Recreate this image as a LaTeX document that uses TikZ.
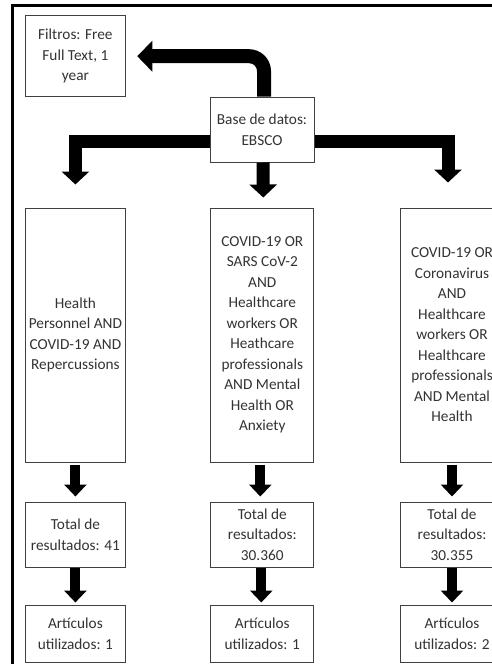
\documentclass[tikz,border=0pt]{standalone}
\usepackage{fontspec}
\setmainfont{Carlito}
\usetikzlibrary{arrows.meta}
\tikzset{
  box/.style={draw=black!75, line width=1pt, fill=white, text=black!80, align=center,
    inner sep=0pt, font=\fontsize{15.3}{20.5}\selectfont},
  bigarrow/.style={line width=13pt, -{Triangle[width=27pt 0, length=13pt 0]}},
  toparrow/.style={line width=14pt, rounded corners=15pt, -{Triangle[width=30pt 0, length=15pt 0]}},
  smallarrow/.style={line width=10pt, -{Triangle[width=22pt 0, length=12pt 0]}},
  frame/.style={line width=2.5pt, draw=black}
}
\begin{document}
\begin{tikzpicture}[x=1pt, y=-1pt]
\useasboundingbox (0,0) rectangle (492,664);
\clip (0,0) rectangle (492,664);
\draw[frame] (12.5,5.3) rectangle (600,700);
% nodes
\node[box, minimum width=100.7pt, minimum height=81pt] (filt) at (75.4,56.2) {Filtros: Free\\Full Text, 1\\year};
\node[box, minimum width=104pt, minimum height=65pt] (base) at (262,129.5) {Base de datos:\\EBSCO};
\node[box, minimum width=100.7pt, minimum height=254pt] (colL) at (75.4,335) {Health\\Personnel AND\\COVID-19 AND\\Repercussions};
\node[box, minimum width=103.3pt, minimum height=254pt] (colM) at (262.3,335) {COVID-19 OR\\SARS CoV-2\\AND\\Healthcare\\workers OR\\Heathcare\\professionals\\AND Mental\\Health OR\\Anxiety};
\node[box, minimum width=104pt, minimum height=254pt] (colR) at (452,335) {COVID-19 OR\\Coronavirus\\AND\\Healthcare\\workers OR\\Healthcare\\professionals\\AND Mental\\Health};
\node[box, minimum width=100.7pt, minimum height=65pt] (totL) at (75.4,534.5) {Total de\\resultados: 41};
\node[box, minimum width=103.3pt, minimum height=65pt] (totM) at (262.3,534.5) {Total de\\resultados:\\30.360};
\node[box, minimum width=104pt, minimum height=65pt] (totR) at (452,534.5) {Total de\\resultados:\\30.355};
\node[box, minimum width=100.7pt, minimum height=57pt] (artL) at (75.4,633.5) {Artículos\\utilizados: 1};
\node[box, minimum width=103.3pt, minimum height=57pt] (artM) at (262.3,633.5) {Artículos\\utilizados: 1};
\node[box, minimum width=104pt, minimum height=57pt] (artR) at (452,633.5) {Artículos\\utilizados: 2};
% connectors
\draw[toparrow] ([xshift=2pt]base.north) |- ([xshift=11pt]filt.east);
\draw[bigarrow] ([yshift=-12pt]base.west) -| ([yshift=23pt]colL.north);
\draw[bigarrow] ([yshift=-12pt]base.east) -| ([xshift=-4pt,yshift=25pt]colR.north);
\draw[bigarrow] ([xshift=1pt]base.south) -- ([xshift=1pt,yshift=10pt]colM.north);
\draw[smallarrow] ([yshift=-2pt]colL.south) -- ([yshift=5pt]totL.north);
\draw[smallarrow] ([xshift=-2pt,yshift=-2pt]colM.south) -- ([xshift=-2pt,yshift=5pt]totM.north);
\draw[smallarrow] ([yshift=-2pt]colR.south) -- ([yshift=5pt]totR.north);
\draw[smallarrow] (totL.south) -- ([yshift=2pt]artL.north);
\draw[smallarrow] ([xshift=-1pt]totM.south) -- ([xshift=-1pt,yshift=2pt]artM.north);
\draw[smallarrow] (totR.south) -- ([yshift=2pt]artR.north);
\end{tikzpicture}
\end{document}
